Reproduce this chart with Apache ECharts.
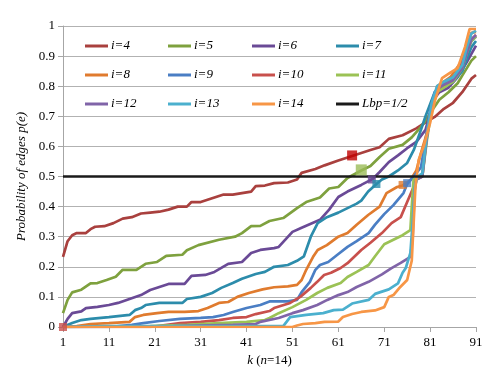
<!DOCTYPE html>
<html>
<head>
<meta charset="utf-8">
<script src="https://cdn.jsdelivr.net/npm/echarts@6/dist/echarts.min.js"></script>
<style>
	html, body { margin: 0; padding: 0; background: #fff; }
	#chart { width: 498px; height: 374px; }
</style>
</head>
<body>
<div id="chart"></div>
<script>
// x tick labels (k) and y ticks
let kTicks = [1, 11, 21, 31, 41, 51, 61, 71, 81, 91];
let yTicks = [0, 0.1, 0.2, 0.3, 0.4, 0.5, 0.6, 0.7, 0.8, 0.9, 1];

// curves, [k, p(e)]
let i4 = [[1,0.233],[2,0.285],[3,0.305],[4,0.312],[6,0.312],[7,0.325],[8,0.333],[10,0.335],[12,0.345],[14,0.36],[16,0.365],[18,0.377],[20,0.38],[22,0.383],[24,0.39],[26,0.4],[28,0.4],[29,0.415],[31,0.415],[34,0.43],[36,0.44],[38,0.44],[40,0.445],[42,0.45],[43,0.468],[45,0.47],[47,0.478],[50,0.48],[52,0.49],[53,0.512],[56,0.525],[58,0.537],[61,0.553],[64,0.568],[66,0.578],[68,0.588],[70,0.597],[72,0.625],[75,0.637],[78,0.66],[80,0.68],[82,0.698],[84,0.725],[86,0.745],[88,0.78],[90,0.825],[91,0.837]];
let i5 = [[1,0.046],[2,0.09],[3,0.115],[5,0.124],[7,0.145],[8.5,0.146],[10.5,0.156],[12.5,0.167],[14,0.19],[17,0.19],[19,0.21],[21.5,0.216],[23.5,0.236],[27,0.24],[28,0.255],[30.5,0.272],[35,0.29],[38.5,0.3],[40,0.312],[42,0.335],[44,0.336],[46,0.352],[49,0.362],[52,0.395],[54,0.415],[57,0.43],[59,0.46],[61,0.465],[63,0.495],[66,0.52],[68,0.535],[70,0.565],[72,0.592],[75,0.605],[77,0.63],[79,0.665],[80,0.685],[81,0.71],[83,0.755],[85,0.78],[87,0.81],[88,0.835],[90,0.885],[91,0.9]];
let i6 = [[1,0],[2,0.027],[3,0.046],[5,0.052],[6,0.063],[8.5,0.067],[11,0.073],[13,0.08],[15.5,0.093],[18,0.106],[20,0.123],[22,0.133],[24,0.143],[27.5,0.143],[29,0.17],[32,0.173],[34,0.183],[37,0.21],[40,0.216],[42,0.246],[44,0.256],[47,0.262],[48,0.266],[51,0.316],[53,0.33],[57,0.356],[59,0.39],[61,0.432],[63,0.45],[66,0.472],[68.5,0.492],[70,0.515],[72,0.548],[74,0.57],[76,0.594],[78,0.615],[80,0.655],[81,0.71],[82,0.76],[83,0.78],[85,0.795],[87,0.83],[89,0.88],[91,0.935]];
let i7 = [[1,0],[3,0.013],[5,0.023],[7,0.027],[11,0.033],[15.5,0.04],[16.7,0.056],[18,0.063],[19,0.073],[22,0.08],[27,0.08],[28,0.093],[31,0.1],[33.5,0.113],[35.5,0.13],[38,0.146],[40,0.16],[43,0.176],[45,0.183],[47,0.2],[50,0.206],[52,0.22],[53.5,0.235],[55,0.3],[56.5,0.345],[58.5,0.365],[61,0.38],[63,0.395],[65,0.41],[66,0.42],[67.5,0.45],[69.3,0.475],[70.5,0.49],[72,0.5],[74,0.52],[76,0.545],[77.5,0.59],[79,0.655],[80,0.7],[81,0.74],[82,0.78],[84,0.8],[86,0.815],[88,0.85],[89,0.89],[90,0.93],[91,0.95]];
let i8 = [[1,0],[4,0.003],[7,0.01],[11,0.013],[15.5,0.017],[16.7,0.033],[18.5,0.04],[21.5,0.046],[24,0.05],[27.5,0.05],[30.5,0.053],[32.5,0.063],[35,0.08],[37,0.083],[39,0.1],[41.5,0.113],[44.5,0.125],[47,0.132],[50,0.135],[52,0.14],[53,0.156],[54,0.19],[55.5,0.233],[56.5,0.256],[58.5,0.272],[61,0.3],[63,0.312],[65,0.34],[67.5,0.372],[70,0.4],[71.5,0.445],[73.8,0.465],[75,0.47],[76.7,0.488],[78,0.52],[79,0.578],[80.5,0.655],[81.5,0.744],[82.6,0.8],[85.4,0.83],[87.6,0.877],[89,0.93],[90,0.977],[91,0.98]];
let i9 = [[1,0],[11,0],[16,0.007],[18.5,0.013],[22,0.02],[26.5,0.027],[31,0.03],[33.7,0.033],[36,0.04],[38,0.05],[41,0.063],[44,0.073],[46,0.085],[50,0.085],[52,0.09],[53,0.116],[54.8,0.15],[56,0.19],[57,0.206],[58.8,0.216],[60.8,0.24],[63,0.266],[65,0.285],[67.6,0.312],[69,0.34],[71,0.375],[73,0.405],[75.2,0.445],[76,0.475],[77.4,0.5],[79,0.53],[80,0.62],[81,0.72],[82,0.78],[83,0.8],[85,0.815],[87,0.845],[88.5,0.9],[90,0.95],[91,0.965]];
let i10 = [[1,0],[20,0],[26.5,0.013],[31,0.017],[35,0.023],[38,0.03],[41,0.033],[43,0.043],[46,0.053],[47,0.063],[50.5,0.08],[52.7,0.1],[55,0.13],[56.4,0.15],[57.9,0.173],[59.4,0.18],[61.5,0.196],[63,0.212],[66,0.256],[68,0.28],[70.5,0.312],[72.6,0.345],[74.6,0.365],[76,0.415],[77.4,0.465],[78,0.49],[79.3,0.5],[80.3,0.64],[81.3,0.73],[82.5,0.785],[84,0.8],[86,0.82],[87.5,0.86],[89,0.92],[90,0.955],[91,0.97]];
let i11 = [[1,0],[20,0.003],[28,0.007],[35,0.013],[41,0.017],[45,0.023],[46,0.03],[48,0.046],[51,0.066],[54,0.09],[56.4,0.113],[58.6,0.13],[61.5,0.146],[63,0.166],[65,0.183],[67.6,0.206],[69,0.235],[71,0.275],[73,0.29],[75,0.305],[76.7,0.322],[77,0.4],[77.4,0.49],[79.3,0.5],[80.3,0.62],[81.3,0.72],[82.5,0.78],[84,0.795],[86,0.815],[88,0.86],[89,0.91],[90,0.95],[91,0.965]];
let i12 = [[1,0],[25,0.003],[38,0.007],[43,0.01],[44,0.017],[48,0.03],[51,0.046],[53.3,0.056],[56.4,0.073],[58.6,0.09],[61,0.106],[63,0.116],[65,0.133],[67.6,0.15],[70.5,0.175],[72.5,0.195],[74.6,0.213],[76.7,0.233],[77.2,0.3],[77.6,0.45],[78,0.49],[79.3,0.5],[80.3,0.63],[81.3,0.73],[82.5,0.79],[84,0.805],[86,0.82],[88,0.86],[89,0.91],[90,0.955],[91,0.97]];
let i13 = [[1,0],[10,0.003],[49,0.003],[50.5,0.033],[54,0.04],[57.7,0.046],[60,0.056],[62,0.058],[64,0.078],[67.6,0.09],[69,0.11],[72,0.125],[74,0.145],[75,0.18],[75.7,0.196],[76.7,0.246],[77.2,0.35],[77.7,0.47],[78.3,0.5],[79.3,0.51],[80.3,0.64],[81.3,0.74],[82.5,0.8],[84,0.815],[86,0.83],[88,0.87],[89,0.93],[90,0.975],[91,0.985]];
let i14 = [[1,0],[51,0],[52,0.005],[53.3,0.01],[56,0.013],[58,0.017],[61,0.018],[62,0.033],[64,0.043],[66,0.05],[69,0.055],[71,0.066],[72,0.1],[73,0.106],[74.5,0.133],[76,0.156],[77,0.22],[77.8,0.465],[78.5,0.555],[79.6,0.6],[81,0.678],[82,0.75],[83.6,0.827],[85.4,0.845],[87,0.86],[88.6,0.93],[89.6,0.99],[91,0.99]];
let lbp = [[1,0.5],[91,0.5]];

// square markers on the curves
let markPts = [[64,0.57],[66,0.522],[68.3,0.49],[69.3,0.475],[75,0.472],[76,0.478],[1,0]];
let markColors = ["#C00000", "#9BBB59", "#6A4A96", "#2C8CAB", "#E07B2E", "#4A7EC4", "#C8504C"];
let markSizes = [10, 11, 8, 8, 8, 8, 8];

let names = ["i=4", "i=5", "i=6", "i=7", "i=8", "i=9", "i=10", "i=11", "i=12", "i=13", "i=14", "Lbp=1/2"];
let curves = [i4, i5, i6, i7, i8, i9, i10, i11, i12, i13, i14, lbp];
let colors = ["#A9403E", "#7EA13E", "#6A4A96", "#2C8CAB", "#E07B2E", "#4A7EC4", "#C8504C", "#9BC255", "#8064A8", "#4BB0CE", "#F79646", "#1A1A1A"];

let echarts = window.echarts;
let myChart = echarts.init(document.getElementById("chart"), null, { renderer: "canvas" });

let serif = "Liberation Serif";
// x axis runs on k-1 so ticks land on 1, 11, 21 ...
let shift = (pts) => pts.map((d) => [d[0] - 1, d[1]]);

let series = curves.map((c, idx) => {
	return {
		name: names[idx],
		type: "line",
		data: shift(c),
		symbol: "none",
		smooth: false,
		color: colors[idx],
		lineStyle: { width: 2.7, color: colors[idx] },
		z: 2,
	};
});

markPts.forEach((m, idx) => {
	series.push({
		name: "mark" + idx,
		type: "scatter",
		symbol: "rect",
		symbolSize: markSizes[idx],
		data: shift([m]),
		itemStyle: { color: markColors[idx] },
		z: 4,
	});
});

let legendCols = [
	["i=4", "i=8", "i=12"],
	["i=5", "i=9", "i=13"],
	["i=6", "i=10", "i=14"],
	["i=7", "i=11", "Lbp=1/2"],
];
let legendLeft = [85, 168, 252, 336];

let legends = legendCols.map((col, idx) => {
	return {
		data: col,
		orient: "vertical",
		left: legendLeft[idx],
		top: 38,
		itemWidth: 23,
		itemHeight: 3,
		itemGap: 13,
		icon: "rect",
		padding: 0,
		textStyle: {
			fontFamily: serif,
			fontStyle: "italic",
			fontSize: 13,
			lineHeight: 16,
			color: "#000",
			padding: [0, 0, 0, -2],
		},
	};
});

let option = {
	animation: false,
	backgroundColor: "#fff",
	legend: legends,
	grid: {
		left: 63,
		right: 22,
		top: 26,
		bottom: 47,
	},
	xAxis: {
		type: "value",
		min: kTicks[0] - 1,
		max: kTicks[kTicks.length - 1] - 1,
		interval: 10,
		name: "{i|k} ({i|n}=14)",
		nameLocation: "middle",
		nameGap: 27,
		nameTextStyle: {
			fontFamily: serif,
			fontSize: 13,
			color: "#000",
			rich: {
				i: { fontFamily: serif, fontStyle: "italic", fontSize: 13, color: "#000" },
			},
		},
		axisLine: { lineStyle: { color: "#A6A6A6", width: 1 } },
		axisTick: { show: true, length: 5, lineStyle: { color: "#A6A6A6" } },
		axisLabel: {
			fontFamily: serif,
			fontSize: 13,
			color: "#000",
			margin: 9,
			formatter: (v) => String(v + 1),
		},
		splitLine: { show: false },
	},
	yAxis: {
		type: "value",
		min: yTicks[0],
		max: yTicks[yTicks.length - 1],
		interval: 0.1,
		name: "Probability of edges p(e)",
		nameLocation: "middle",
		nameGap: 34,
		nameTextStyle: {
			fontFamily: serif,
			fontStyle: "italic",
			fontSize: 13,
			color: "#000",
		},
		axisLine: { show: true, lineStyle: { color: "#A6A6A6", width: 1 } },
		axisTick: { show: true, length: 5, lineStyle: { color: "#A6A6A6" } },
		axisLabel: {
			fontFamily: serif,
			fontSize: 13,
			color: "#000",
			margin: 8,
		},
		splitLine: { show: true, lineStyle: { color: "#B2B2B2", width: 1 } },
	},
	series: series,
};

myChart.setOption(option);
</script>
</body>
</html>
